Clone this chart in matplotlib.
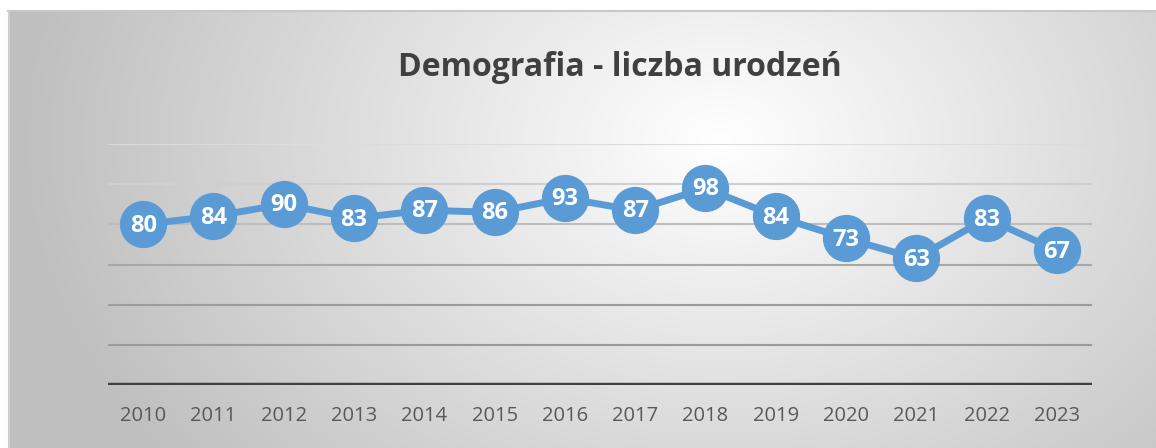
"""Demografia - liczba urodzeń: wykres liniowy z etykietami w znacznikach"""
import numpy as np
import matplotlib
matplotlib.use("Agg")
import matplotlib.pyplot as plt

# dane
years = ["2010", "2011", "2012", "2013", "2014", "2015", "2016",
         "2017", "2018", "2019", "2020", "2021", "2022", "2023"]
births = [80, 84, 90, 83, 87, 86, 93, 87, 98, 84, 73, 63, 83, 67]
grid_levels = [20, 40, 60, 80, 100, 120]

BLUE = "#5B9BD5"

W, H = 1156, 448
fig = plt.figure(figsize=(W / 100, H / 100), dpi=100)

# tło z gradientem radialnym (jasny środek, szare brzegi)
bg = fig.add_axes([0, 0, 1, 1])
yy, xx = np.mgrid[0:H, 0:W]
d = np.sqrt(((xx - 720) / 700.0) ** 2 + ((yy - 140) / 520.0) ** 2)
shade = 1.0 - 0.25 * np.clip(d, 0, 1)
img = np.dstack([shade, shade, shade])
img[:11, :] = 1.0
img[:, :8] = 1.0
bg.imshow(img, extent=[0, W, H, 0], aspect="auto", interpolation="bilinear")
bg.plot([8, W], [11.5, 11.5], color="#c8c8c8", lw=1.5)
bg.plot([8.5, 8.5], [11, H], color="#d0d0d0", lw=1.5)
bg.set_xlim(0, W)
bg.set_ylim(H, 0)
bg.axis("off")

ax = fig.add_axes([108 / W, 63 / H, 984 / W, 241 / H])
ax.patch.set_alpha(0)
x = np.arange(len(years))

# linie siatki
grid_colors = ["#9a9a9a", "#9c9c9c", "#a8a8a8", "#bdbdbd", "#cfcfcf", "#dcdcdc"]
for lvl, c in zip(grid_levels, grid_colors):
    ax.axhline(lvl, color=c, lw=1.5, zorder=1)
ax.axhline(0, color="#404040", lw=3.2, zorder=2)

ax.plot(x, births, color=BLUE, lw=5, marker="o", markersize=33,
        markerfacecolor=BLUE, markeredgecolor=BLUE, zorder=3)
for xi, v in zip(x, births):
    ax.text(xi, v - 0.6, str(v), ha="center", va="center", color="white",
            fontsize=17, fontweight="bold", family="Open Sans", zorder=4)

ax.set_xlim(-0.5, len(years) - 0.5)
ax.set_ylim(0, 120)
ax.set_xticks(x)
ax.set_xticklabels(years, fontsize=14.5, color="#595959", family="Open Sans")
ax.set_yticks([])
ax.tick_params(axis="x", length=0, pad=15)
for s in ax.spines.values():
    s.set_visible(False)

fig.text(620 / W, 1 - 68 / H, "Demografia - liczba urodzeń", ha="center", va="center",
         fontsize=23, fontweight="bold", color="#404040", family="Open Sans")

fig.savefig("out.png", dpi=100)
plt.close(fig)
